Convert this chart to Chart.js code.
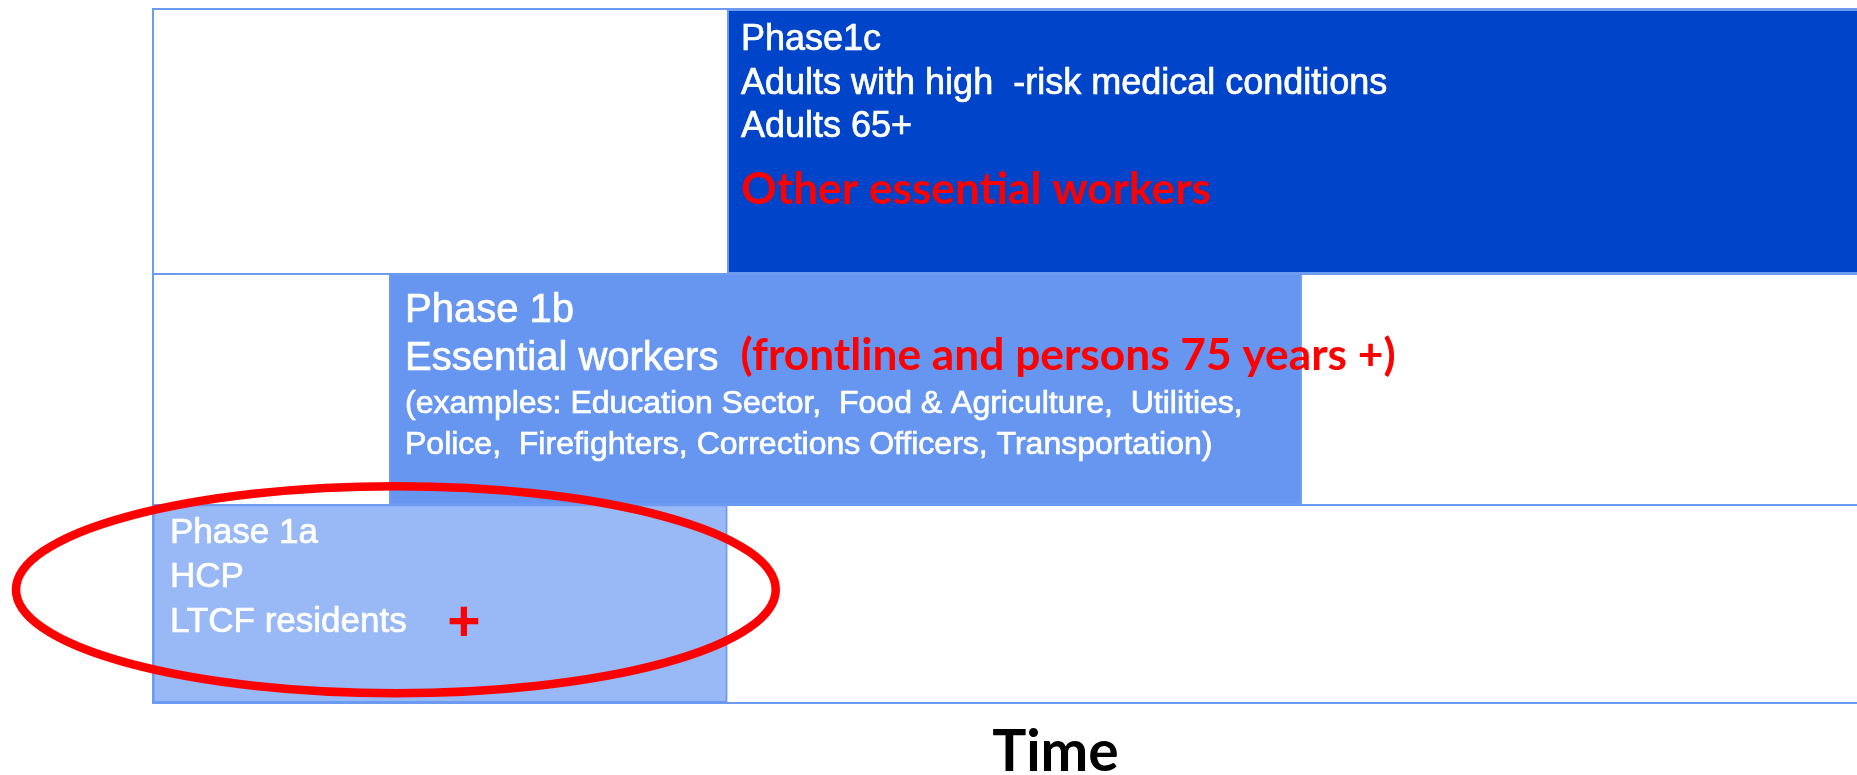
<!DOCTYPE html>
<html lang="en">
<head>
<meta charset="utf-8">
<title>Fases de vacunación</title>
<script src="https://cdn.jsdelivr.net/npm/chart.js@4.4.1/dist/chart.umd.min.js"></script>
<style>
    html, body { margin: 0; padding: 0; background: #ffffff; overflow: hidden; }
    /* el gráfico original sigue más allá del borde derecho */
    #contenedor { width: 1958px; height: 775px; position: relative; }
</style>
</head>
<body>
<div id="contenedor"><canvas id="grafico-fases"></canvas></div>
<script>
// Datos de las fases (de abajo hacia arriba)
const fases = ['Phase 1a', 'Phase 1b', 'Phase1c'];
const inicioFase = [0, 2.88, 7];      // inicio en el eje de tiempo
const finFase = [7, 14, 22];          // fin en el eje de tiempo
const posicionFila = [14.27, 42.82, 80.93];
const coloresFase = ['#98b8f6', '#6796f0', '#0044c9'];

// Textos dentro de cada fase
const textoFase1a = ['HCP', 'LTCF residents'];
const textoFase1b = ['Essential workers',
    '(examples: Education Sector,  Food & Agriculture,  Utilities,',
    'Police,  Firefighters, Corrections Officers, Transportation)'];
const textoFase1c = ['Adults with high  -risk medical conditions', 'Adults 65+'];
const notasRojas = ['+', '(frontline and persons 75 years +)', 'Other essential workers'];
const tituloEjeX = 'Time';

// Elipse roja alrededor de la fase 1a (en unidades de los ejes)
const elipseCentro = [2.96, 16.27];
const elipseRadio = [4.63, 14.93];

const colorLinea = '#6c9bf1';
const blanco = '#ffffff';
const rojo = '#ff0000';
const fuenteArial = 'Liberation Sans, Arial, sans-serif';
const fuenteRoja = 'bold 43px Lato, Carlito, sans-serif';

// Líneas de texto: fila, desplazamiento desde la esquina superior izquierda de la barra
const lineasTexto = [
    { fila: 0, dx: 17, dy: 38.7, texto: fases[0], font: '35px ' + fuenteArial, color: blanco },
    { fila: 0, dx: 17, dy: 82.1, texto: textoFase1a[0], font: '35px ' + fuenteArial, color: blanco },
    { fila: 0, dx: 17, dy: 127.1, texto: textoFase1a[1], font: '35px ' + fuenteArial, color: blanco },
    { fila: 0, dx: 311, dy: 136, texto: notasRojas[0], font: 'bold 57px ' + fuenteArial, color: rojo, align: 'center' },

    { fila: 1, dx: 15.7, dy: 48.4, texto: fases[1], font: '40px ' + fuenteArial, color: blanco },
    { fila: 1, dx: 15.7, dy: 96.4, texto: textoFase1b[0], font: '40px ' + fuenteArial, color: blanco },
    { fila: 1, dx: 351.3, dy: 96.4, texto: notasRojas[1], font: fuenteRoja, color: rojo, ancho: 655 },
    { fila: 1, dx: 15.7, dy: 139.4, texto: textoFase1b[1], font: '32px ' + fuenteArial, color: blanco },
    { fila: 1, dx: 15.7, dy: 180.4, texto: textoFase1b[2], font: '32px ' + fuenteArial, color: blanco },

    { fila: 2, dx: 13.7, dy: 40.7, texto: fases[2], font: '36px ' + fuenteArial, color: blanco },
    { fila: 2, dx: 13.7, dy: 84.2, texto: textoFase1c[0], font: '36px ' + fuenteArial, color: blanco },
    { fila: 2, dx: 13.7, dy: 127.7, texto: textoFase1c[1], font: '36px ' + fuenteArial, color: blanco },
    { fila: 2, dx: 13.7, dy: 194.7, texto: notasRojas[2], font: fuenteRoja, color: rojo, ancho: 470 }
];

// Plugin para dibujar la elipse y los textos encima de las barras
const pluginTextos = {
    id: 'textosFases',
    afterDatasetsDraw(chart) {
        const ctx = chart.ctx;
        const meta = chart.getDatasetMeta(0);
        const xs = chart.scales.x;
        const ys = chart.scales.y;

        // Elipse roja
        const cx = xs.getPixelForValue(elipseCentro[0]);
        const cy = ys.getPixelForValue(elipseCentro[1]);
        const rx = xs.getPixelForValue(elipseCentro[0] + elipseRadio[0]) - cx;
        const ry = cy - ys.getPixelForValue(elipseCentro[1] + elipseRadio[1]);
        ctx.save();
        ctx.beginPath();
        ctx.ellipse(cx, cy, rx, ry, 0, 0, 2 * Math.PI);
        ctx.lineWidth = 8.5;
        ctx.strokeStyle = rojo;
        ctx.stroke();
        ctx.restore();

        lineasTexto.forEach(l => {
            const barra = meta.data[l.fila].getProps(['x', 'y', 'base', 'height'], true);
            const izquierda = Math.min(barra.x, barra.base);
            const arriba = barra.y - barra.height / 2;
            ctx.save();
            ctx.font = l.font;
            ctx.fillStyle = l.color;
            ctx.textAlign = l.align || 'left';
            ctx.textBaseline = 'alphabetic';
            ctx.translate(izquierda + l.dx, arriba + l.dy);
            if (l.ancho) {
                const w = ctx.measureText(l.texto).width;
                ctx.scale(l.ancho / w, 1);
            }
            ctx.fillText(l.texto, 0, 0);
            // el texto blanco del original se ve un poco más grueso
            if (l.color === blanco) {
                ctx.strokeStyle = blanco;
                ctx.lineWidth = 0.7;
                ctx.strokeText(l.texto, 0, 0);
            }
            ctx.restore();
        });
    }
};

function setupPhaseChart() {
    const ctx = document.getElementById('grafico-fases');
    if (!ctx) {
        console.error('No se encontró el canvas del gráfico');
        return;
    }

    const chartData = {
        labels: fases,
        datasets: [{
            data: fases.map((f, i) => ({ x: [inicioFase[i], finFase[i]], y: posicionFila[i] })),
            backgroundColor: coloresFase,
            borderColor: colorLinea,
            borderWidth: 2,
            borderSkipped: false,
            barThickness: 'flex',
            categoryPercentage: 1,
            barPercentage: 1
        }]
    };

    const chartOptions = {
        indexAxis: 'y',
        responsive: true,
        maintainAspectRatio: false,
        animation: false,
        layout: {
            padding: { left: 153, top: 9.3, right: 0, bottom: 0 }
        },
        plugins: {
            legend: { display: false },
            tooltip: { enabled: false }
        },
        scales: {
            x: {
                type: 'linear',
                min: 0,
                max: 22,
                ticks: { display: false },
                grid: { display: false, drawTicks: false },
                border: { display: true, color: colorLinea, width: 2 },
                title: {
                    display: true,
                    text: tituloEjeX,
                    color: '#000000',
                    font: { family: 'Lato', weight: 'bold', size: 57, lineHeight: 0.8 },
                    padding: { top: 26.9, bottom: 0 }
                }
            },
            y: {
                type: 'linear',
                min: 0,
                max: 100,
                offset: false,
                ticks: { display: false },
                afterBuildTicks: function (scale) {
                    // Líneas de separación entre filas
                    const limites = [scale.min];
                    for (let i = 0; i < posicionFila.length - 1; i++) {
                        limites.push((posicionFila[i] + posicionFila[i + 1]) / 2);
                    }
                    limites.push(scale.max);
                    scale.ticks = limites.map(v => ({ value: v }));
                },
                grid: { color: colorLinea, lineWidth: 2, drawTicks: false, offset: false },
                border: { display: true, color: colorLinea, width: 2 }
            }
        }
    };

    try {
        new Chart(ctx, {
            type: 'bar',
            data: chartData,
            options: chartOptions,
            plugins: [pluginTextos]
        });
    } catch (error) {
        console.error('Error al crear el gráfico:', error);
    }
}

setupPhaseChart();
</script>
</body>
</html>
